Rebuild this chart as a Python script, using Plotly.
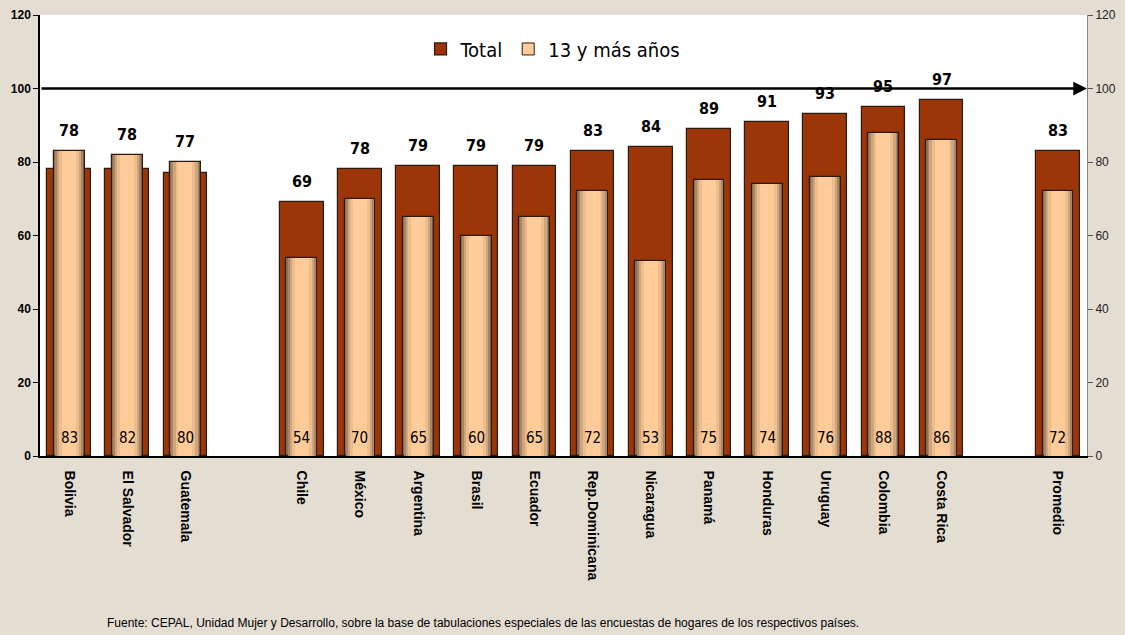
import plotly.graph_objects as go

# empty strings keep the gaps between the country groups
paises = ["Bolivia", "El Salvador", "Guatemala", " ",
          "Chile", "México", "Argentina", "Brasil", "Ecuador", "Rep.Dominicana",
          "Nicaragua", "Panamá", "Honduras", "Uruguay", "Colombia", "Costa Rica", "  ",
          "Promedio"]
total = [78, 78, 77, None, 69, 78, 79, 79, 79, 83, 84, 89, 91, 93, 95, 97, None, 83]
trece_y_mas = [83, 82, 80, None, 54, 70, 65, 60, 65, 72, 53, 75, 74, 76, 88, 86, None, 72]
y_ticks = [0, 20, 40, 60, 80, 100, 120]

FONT = "DejaVu Sans Condensed, Liberation Sans Narrow, Arial Narrow, sans-serif"
ARIAL = "Liberation Sans, Arial, sans-serif"
TOTAL_COLOR = "#9C3508"
PEACH = "#FFCC99"

fig = go.Figure()

fig.add_trace(go.Bar(
    x=paises, y=total, name="Total", width=0.75,
    marker=dict(color=TOTAL_COLOR, line=dict(color="#2b1a10", width=1.2)),
    hoverinfo="x+y",
))

# cylinder look for the 13+ bars: a few layered bars, darker at the edges
layers = [(0.53, "#8A6D52"), (0.48, "#A98663"), (0.42, "#CFA67B"), (0.34, "#EDBD8E"), (0.24, PEACH)]
for i, (w, c) in enumerate(layers):
    fig.add_trace(go.Bar(
        x=paises, y=trece_y_mas, name="13 y más años", width=w,
        marker=dict(color=c, line=dict(color="#2b1a10" if i == 0 else c, width=1.2 if i == 0 else 0)),
        showlegend=False, hoverinfo="skip" if i else "x+y",
    ))

# legend entry with the peach colour
fig.add_trace(go.Bar(
    x=[paises[0]], y=[0], name="13 y más años", width=0,
    marker=dict(color=PEACH, line=dict(color="#2b1a10", width=1)),
    hoverinfo="skip",
))

# invisible trace so the right axis gets drawn
fig.add_trace(go.Scatter(x=[paises[0]], y=[0], yaxis="y2", mode="markers",
                         marker=dict(opacity=0), showlegend=False, hoverinfo="skip"))

# numbers at the foot of the 13+ bars
for p, v in zip(paises, trece_y_mas):
    if v is None:
        continue
    fig.add_annotation(x=p, y=0, text=str(v), showarrow=False, yanchor="bottom", yshift=7,
                       font=dict(family=FONT, size=15, color="black"))

# numbers above the bars for Total
for p, t, s in zip(paises, total, trece_y_mas):
    if t is None:
        continue
    fig.add_annotation(x=p, y=max(t, s), text=str(t), showarrow=False, yanchor="bottom", yshift=9,
                       font=dict(family=FONT, size=16, color="black", weight="bold"))

# reference line at 100 with arrow head
fig.add_annotation(x=1.0, y=100, xref="x domain", yref="y", ax=0.0, ay=100,
                   axref="x domain", ayref="y",
                   text="", showarrow=True, arrowhead=2, arrowsize=1.1, arrowwidth=2.5,
                   arrowcolor="black")

fig.add_annotation(
    x=0.062, y=0.0, xref="paper", yref="paper", yanchor="bottom", xanchor="left", yshift=-176,
    text="Fuente: CEPAL, Unidad Mujer y Desarrollo, sobre la base de tabulaciones especiales de las encuestas de hogares de los respectivos países.",
    showarrow=False, font=dict(family=ARIAL, size=12, color="black"),
)

fig.update_layout(
    width=1125, height=635,
    margin=dict(l=40, r=38, t=15, b=179),
    paper_bgcolor="#E3DDD2",
    plot_bgcolor="white",
    barmode="overlay",
    bargap=0,
    showlegend=True,
    legend=dict(orientation="h", x=0.49, xanchor="center", y=0.923, yanchor="middle",
                bgcolor="rgba(0,0,0,0)", font=dict(family=FONT, size=20, color="black"),
                itemwidth=30, tracegroupgap=0),
    font=dict(family=FONT, color="black"),
    xaxis=dict(
        type="category", categoryorder="array", categoryarray=paises,
        tickangle=90, tickfont=dict(family=ARIAL, size=14, color="black", weight="bold"),
        showline=True, linecolor="black", linewidth=1.5, ticks="", showgrid=False,
        ticklabelstandoff=10,
        range=[-0.5, len(paises) - 0.5], fixedrange=True, automargin=False,
    ),
    yaxis=dict(
        range=[0, 120], tickvals=y_ticks, ticks="outside", ticklen=5, tickcolor="black",
        showline=True, linecolor="black", linewidth=1.5, showgrid=False, zeroline=False,
        tickfont=dict(family=ARIAL, size=12, color="black", weight="bold"),
        fixedrange=True, automargin=False,
    ),
    yaxis2=dict(
        range=[0, 120], tickvals=y_ticks, overlaying="y", side="right", anchor="x",
        ticks="outside", ticklen=5, tickcolor="#555", showline=True, linecolor="#888", linewidth=1,
        showgrid=False, zeroline=False,
        tickfont=dict(family=ARIAL, size=12, color="#222"),
        fixedrange=True, automargin=False,
    ),
)

# the page's default body margin would push the chart off the window
fig.write_html("out.html", config={"displayModeBar": False},
               post_script="document.body.style.margin='0';")
